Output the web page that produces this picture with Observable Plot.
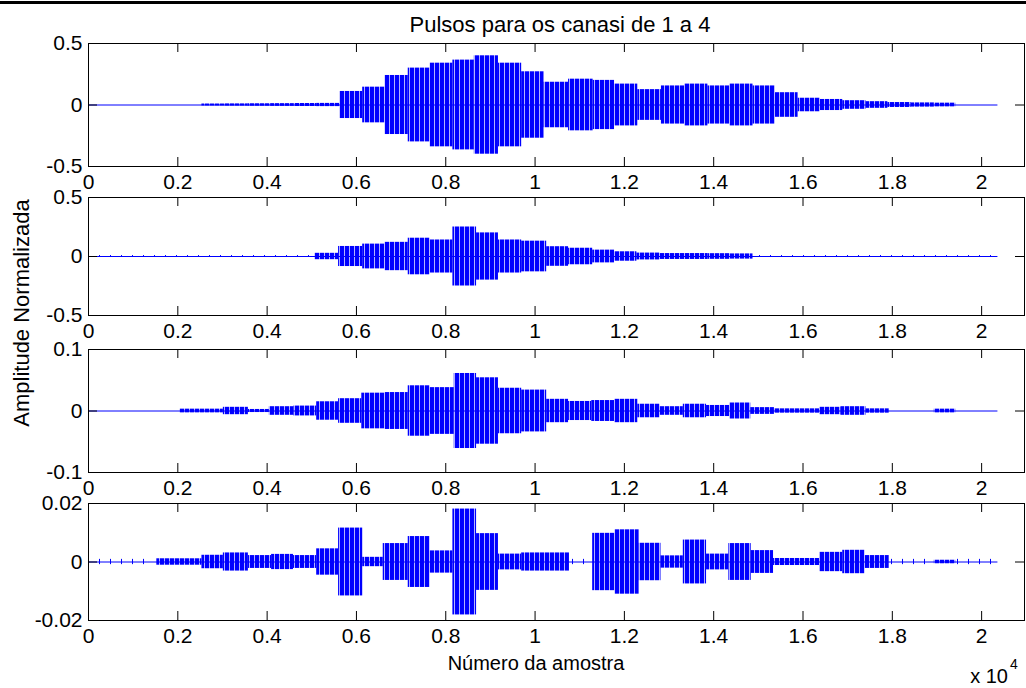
<!DOCTYPE html>
<html><head><meta charset="utf-8">
<script src="https://cdn.jsdelivr.net/npm/d3@7"></script>
<script src="https://cdn.jsdelivr.net/npm/@observablehq/plot@0.6"></script>
<style>
body{margin:0;background:#fff;}
#wrap{position:relative;width:1026px;height:688px;overflow:hidden;background:#fff;font-family:"Liberation Sans",Arial,sans-serif;}
#wrap > svg{position:absolute;left:0;}
#topbar{position:absolute;left:0;top:1px;width:1026px;height:2.5px;background:#000;}
</style></head><body>
<svg width="0" height="0" style="position:absolute">
<defs>
<pattern id="pulse" patternUnits="userSpaceOnUse" width="5" height="10"><rect x="0" y="0" width="4.3" height="10" fill="#0000ff"/></pattern>
<pattern id="blip" patternUnits="userSpaceOnUse" width="11" height="10"><rect x="0" y="0" width="1" height="10" fill="#0000ff"/></pattern>
</defs></svg>
<div id="wrap"><div id="topbar"></div></div>
<script>
// ---------- data (sample index, amplitude) ----------
const xMax = 20960;
const signalLength = 20365;
const xTicks = [0, 2000, 4000, 6000, 8000, 10000, 12000, 14000, 16000, 18000, 20000];
const xTickLabels = ["0", "0.2", "0.4", "0.6", "0.8", "1", "1.2", "1.4", "1.6", "1.8", "2"];
const yLimits = [0.5, 0.5, 0.1, 0.02];
const yTickLabels = [["-0.5", "0", "0.5"], ["-0.5", "0", "0.5"], ["-0.1", "0", "0.1"], ["-0.02", "0", "0.02"]];

// channel pulses: [start, end, amplitude]
const ch1Pulses = [
  [2540, 3050, 0.008], [3050, 3570, 0.009], [3570, 4080, 0.010], [4080, 4600, 0.011],
  [4600, 5110, 0.012], [5110, 5630, 0.013],
  [5630, 6140, 0.11], [6140, 6640, 0.145], [6640, 7160, 0.24], [7160, 7650, 0.30],
  [7650, 8160, 0.34], [8160, 8640, 0.365], [8640, 9180, 0.40], [9180, 9700, 0.34],
  [9700, 10200, 0.27], [10200, 10750, 0.185], [10750, 11300, 0.21], [11300, 11780, 0.20],
  [11780, 12300, 0.17], [12300, 12830, 0.125], [12830, 13350, 0.155], [13350, 13870, 0.17],
  [13870, 14360, 0.155], [14360, 14880, 0.17], [14880, 15380, 0.155], [15380, 15890, 0.10],
  [15890, 16390, 0.055], [16390, 16890, 0.045], [16890, 17410, 0.035], [17410, 17900, 0.027],
  [17900, 18420, 0.02], [18420, 18940, 0.017], [18940, 19420, 0.015]
];
const ch1Blips = [];

const ch2Pulses = [
  [5070, 5600, 0.027], [5600, 6140, 0.085], [6140, 6640, 0.105], [6640, 7160, 0.12],
  [7160, 7650, 0.155], [7650, 8160, 0.14], [8160, 8690, 0.25], [8690, 9180, 0.20],
  [9180, 9700, 0.14], [9700, 10260, 0.13], [10260, 10750, 0.083], [10750, 11290, 0.07],
  [11290, 11780, 0.054], [11780, 12280, 0.04], [12280, 12800, 0.029], [12800, 13350, 0.025],
  [13350, 13870, 0.025], [13870, 14360, 0.024], [14360, 14880, 0.022]
];
const ch2Blips = [[0, 5070, 0.008], [14880, 20365, 0.008]];

const ch3Pulses = [
  [2050, 3020, 0.003], [3020, 3580, 0.006], [3580, 4050, 0.0025], [4050, 4600, 0.007],
  [4600, 5110, 0.008], [5110, 5600, 0.015], [5600, 6120, 0.02], [6120, 6640, 0.029],
  [6640, 7160, 0.03], [7160, 7650, 0.041], [7650, 8190, 0.038], [8190, 8690, 0.061],
  [8690, 9180, 0.054], [9180, 9700, 0.037], [9700, 10260, 0.034], [10260, 10750, 0.019],
  [10750, 11270, 0.0155], [11270, 11780, 0.017], [11780, 12300, 0.019], [12300, 12800, 0.011],
  [12800, 13320, 0.007], [13320, 13840, 0.011], [13840, 14360, 0.009], [14360, 14830, 0.013],
  [14830, 15360, 0.0055], [15360, 16370, 0.0035], [16370, 16850, 0.006], [16850, 17410, 0.007],
  [17410, 17930, 0.0035], [18940, 19420, 0.003]
];
const ch3Blips = [];

const ch4Pulses = [
  [1530, 2540, 0.0011], [2540, 3020, 0.0023], [3020, 3580, 0.0031], [3580, 4100, 0.0022],
  [4100, 4590, 0.0026], [4590, 5110, 0.0022], [5110, 5600, 0.0045], [5600, 6140, 0.0116],
  [6140, 6600, 0.0016], [6600, 7160, 0.0063], [7160, 7650, 0.0087], [7650, 8160, 0.0038],
  [8160, 8690, 0.0181], [8690, 9180, 0.0097], [9180, 9700, 0.0027], [9700, 10770, 0.0031],
  [11290, 11790, 0.0098], [11790, 12330, 0.011], [12330, 12820, 0.0064], [12820, 13320, 0.0021],
  [13320, 13840, 0.0075], [13840, 14340, 0.0027], [14340, 14840, 0.0063], [14840, 15340, 0.0039],
  [15340, 16370, 0.0012], [16370, 16890, 0.0033], [16890, 17390, 0.004], [17390, 17930, 0.0022],
  [18940, 19420, 0.0006]
];
const ch4Blips = [[0, 1380, 0.0009], [10770, 11290, 0.0009], [17930, 18940, 0.0009], [19420, 20365, 0.0009]];

const channels = [
  {pulses: ch1Pulses, blips: ch1Blips},
  {pulses: ch2Pulses, blips: ch2Blips},
  {pulses: ch3Pulses, blips: ch3Blips},
  {pulses: ch4Pulses, blips: ch4Blips}
];

// ---------- layout ----------
const W = 1026, ML = 88, MR = 2, MT = 20, MB = 40;
const frames = [[43, 166], [197, 315], [349, 472], [503, 620]];
const TICK = 9;
const wrap = document.getElementById("wrap");

channels.forEach((ch, i) => {
  const lim = yLimits[i];
  const yVals = [-lim, 0, lim];
  const [ft, fb] = frames[i];
  const h = fb - ft;
  const innerW = W - ML - MR;
  const chart = Plot.plot({
    width: W, height: h + MT + MB,
    marginLeft: ML, marginRight: MR, marginTop: MT, marginBottom: MB,
    style: {background: "transparent", fontFamily: "'Liberation Sans', Arial, sans-serif", fontSize: "21px", color: "#000", overflow: "visible"},
    x: {domain: [0, xMax]},
    y: {domain: [-lim, lim]},
    marks: [
      Plot.ruleY([0], {x1: 0, x2: signalLength, stroke: "#0000ff", strokeWidth: 1}),
      Plot.rect(ch.blips, {x1: d => d[0], x2: d => d[1], y1: d => -d[2], y2: d => d[2], fill: "url(#blip)"}),
      Plot.rect(ch.pulses, {x1: d => d[0], x2: d => d[1], y1: d => -d[2], y2: d => d[2], fill: "url(#pulse)"}),
      Plot.frame({stroke: "#000", strokeWidth: 1}),
      Plot.ruleX(xTicks, {x: d => d, insetTop: h - TICK, stroke: "#000"}),
      Plot.ruleX(xTicks, {x: d => d, insetBottom: h - TICK, stroke: "#000"}),
      Plot.ruleY(yVals, {y: d => d, insetRight: innerW - TICK, stroke: "#000"}),
      Plot.ruleY(yVals, {y: d => d, insetLeft: innerW - TICK, stroke: "#000"}),
      Plot.axisX({ticks: xTicks, tickFormat: d => xTickLabels[xTicks.indexOf(d)], tickSize: 0, tickPadding: 8, label: null}),
      Plot.axisY({ticks: yVals, tickFormat: d => yTickLabels[i][yVals.indexOf(d)], tickSize: 0, tickPadding: 6, label: null})
    ]
  });
  chart.style.position = "absolute";
  chart.style.left = "0px";
  chart.style.top = (ft - MT) + "px";
  wrap.appendChild(chart);
});

// ---------- annotations ----------
const ns = "http://www.w3.org/2000/svg";
const ann = document.createElementNS(ns, "svg");
ann.setAttribute("width", W); ann.setAttribute("height", 688);
ann.style.position = "absolute"; ann.style.left = "0"; ann.style.top = "0";
ann.setAttribute("font-family", "'Liberation Sans', Arial, sans-serif");
function txt(s, x, y, size, anchor, rot) {
  const t = document.createElementNS(ns, "text");
  t.textContent = s;
  t.setAttribute("x", x); t.setAttribute("y", y);
  t.setAttribute("font-size", size);
  t.setAttribute("text-anchor", anchor);
  if (rot) t.setAttribute("transform", `rotate(${rot},${x},${y})`);
  ann.appendChild(t);
  return t;
}
txt("Pulsos para os canasi de 1 a 4", 560, 32, 22, "middle");
txt("Amplitude Normalizada", 29, 313, 22, "middle", -90);
txt("Número da amostra", 536, 670, 20, "middle");
txt("x 10", 1008, 683, 20, "end");
txt("4", 1010, 669, 14, "start");
wrap.appendChild(ann);
</script>
</body></html>
